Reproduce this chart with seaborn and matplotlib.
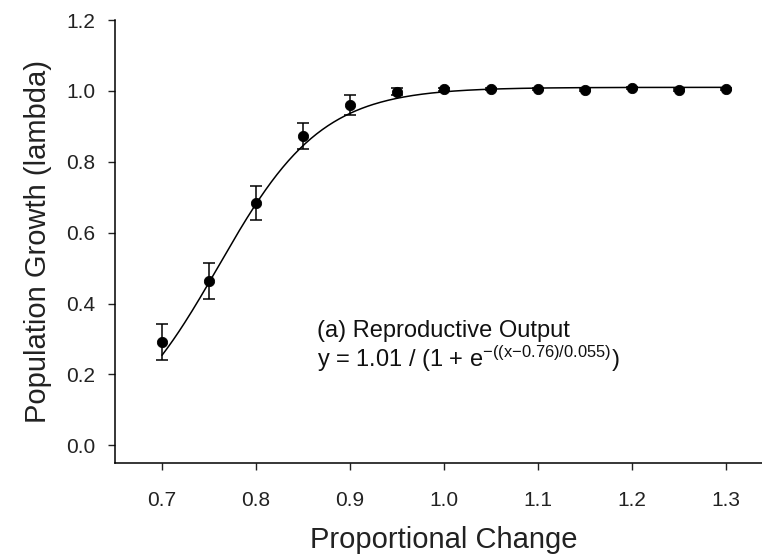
import numpy as np
import pandas as pd
import seaborn as sns
import matplotlib.pyplot as plt

# values
prop_change = [0.70, 0.75, 0.80, 0.85, 0.90, 0.95, 1.00, 1.05, 1.10, 1.15, 1.20, 1.25, 1.30]
lambda_mean = [0.292, 0.463, 0.684, 0.872, 0.960, 0.998, 1.005, 1.006, 1.006, 1.003, 1.009, 1.003, 1.006]
lambda_err = [0.050, 0.051, 0.048, 0.037, 0.028, 0.010, 0.004, 0.003, 0.003, 0.003, 0.003, 0.003, 0.003]

# fitted logistic, parameters as printed on the chart
fit_a, fit_x0, fit_b = 1.01, 0.76, 0.055

x_ticks = [0.7, 0.8, 0.9, 1.0, 1.1, 1.2, 1.3]
y_ticks = [0.0, 0.2, 0.4, 0.6, 0.8, 1.0, 1.2]

df = pd.DataFrame({'x': prop_change, 'y': lambda_mean, 'err': lambda_err})
x_fit = np.linspace(min(prop_change), max(prop_change), 300)
fit_df = pd.DataFrame({'x': x_fit, 'y': fit_a / (1 + np.exp(-(x_fit - fit_x0) / fit_b))})

sns.set_style('ticks')
plt.rcParams['font.family'] = ['Liberation Sans', 'DejaVu Sans']
plt.rcParams['mathtext.fontset'] = 'custom'
plt.rcParams['mathtext.rm'] = 'Liberation Sans'
plt.rcParams['mathtext.it'] = 'Liberation Sans'

fig = plt.figure(figsize=(7.62, 5.59), dpi=100)
ax = fig.add_axes([115 / 762, 1 - 463 / 559, (773 - 115) / 762, (463 - 20) / 559])

sns.lineplot(data=fit_df, x='x', y='y', ax=ax, color='black', linewidth=1.1)
ax.errorbar(df['x'], df['y'], yerr=df['err'], fmt='none', ecolor='black',
            elinewidth=1.1, capsize=4.5, capthick=1.1)
sns.scatterplot(data=df, x='x', y='y', ax=ax, color='black', s=55,
                edgecolor='black', zorder=5)

ax.set_xlim(0.65, 1.35)
ax.set_ylim(-0.05, 1.2)
ax.set_xticks(x_ticks)
ax.set_yticks(y_ticks)
ax.set_xticklabels([f'{t:.1f}' for t in x_ticks])
ax.set_yticklabels([f'{t:.1f}' for t in y_ticks])
sns.despine(ax=ax)
for s in ['left', 'bottom']:
    ax.spines[s].set_linewidth(1.1)
    ax.spines[s].set_color('black')
ax.tick_params(axis='both', direction='out', length=5, width=1, colors='#222222', labelsize=15)
ax.tick_params(axis='x', pad=15)
ax.tick_params(axis='y', pad=9)

ax.set_xlabel('Proportional Change', fontsize=21, color='#222222', labelpad=12)
ax.set_ylabel('Population Growth (lambda)', fontsize=21, color='#222222', labelpad=10)

ax.text(0.865, 0.305, '(a) Reproductive Output', fontsize=17, color='#111111', va='baseline')
ax.text(0.865, 0.222, r'y = 1.01 / (1 + e$^{-((x{-}0.76)/0.055)}$)', fontsize=17,
        color='#111111', va='baseline')

fig.savefig('out.png', dpi=100)
